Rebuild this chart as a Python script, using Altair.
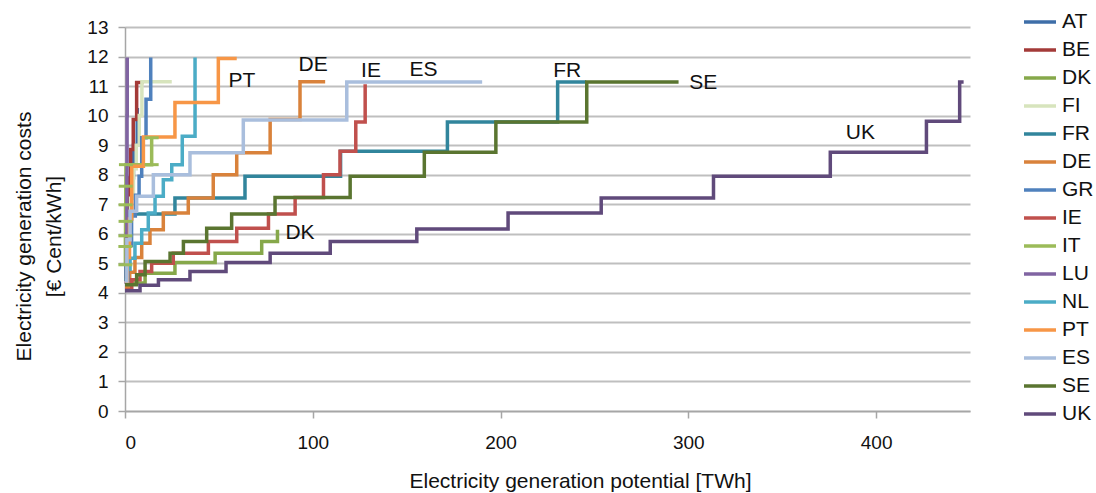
import altair as alt
import pandas as pd

FONT = "Liberation Sans"
TXT = "#111111"

countries = ["AT", "BE", "DK", "FI", "FR", "DE", "GR", "IE", "IT", "LU", "NL", "PT", "ES", "SE", "UK"]
colors = ["#3E6EA8", "#A33A38", "#86A84A", "#D7E4BD", "#31859C", "#D9823B", "#4F81BD",
          "#C0504D", "#9BBB59", "#8064A2", "#4BACC6", "#F79646", "#A9BEDD", "#5A7530", "#604A7B"]

# Step curves: potential (TWh) where each cost level (EUR cent/kWh) starts; last point closes the curve
at_x = [0, 0.8, 1.8, 3.0, 4.5, 6.5, 7.5]
at_y = [4.3, 5.6, 6.8, 7.9, 9.0, 10.2, 10.2]
be_x = [0, 0.8, 1.6, 2.4, 3.0, 4.4, 6.2, 9.8]
be_y = [4.3, 5.5, 6.8, 7.9, 8.85, 9.87, 11.12, 11.12]
dk_x = [0, 3, 10.7, 26.6, 48, 72.8, 81.2]
dk_y = [4.1, 4.33, 4.66, 5.03, 5.34, 5.74, 6.14]
fi_x = [0, 1.5, 3, 4.5, 6, 7.6, 9.0, 24.9]
fi_y = [4.6, 6.0, 7.2, 8.2, 9.0, 10.0, 11.15, 11.15]
fr_x = [0, 0.6, 1.2, 1.8, 26.6, 63.9, 114.8, 171.7, 230.4, 245.6]
fr_y = [4.4, 5.4, 6.1, 6.67, 7.21, 7.95, 8.79, 9.78, 11.14, 11.14]
de_x = [0, 2.5, 5.3, 8.9, 13.3, 20.4, 33.7, 47, 59.5, 77.3, 93.2, 106.6]
de_y = [4.2, 4.7, 5.2, 5.68, 6.14, 6.70, 7.21, 8.0, 8.74, 9.87, 11.15, 11.15]
gr_x = [0, 1.5, 3.5, 5.5, 7.5, 8.9, 11.2, 13.7]
gr_y = [4.4, 5.6, 6.6, 7.3, 7.95, 9.25, 10.55, 11.97]
ie_x = [0, 3.6, 8.0, 14.2, 25.7, 44.4, 59.5, 76.4, 90.6, 105.7, 114.5, 122.9, 127.9]
ie_y = [4.1, 4.44, 4.72, 5.0, 5.34, 5.74, 6.19, 6.67, 7.23, 8.0, 8.79, 9.78, 11.06]
it_x = [0.2, 0.2, 0.2, 0.3, 0.3, 0.4, 0.5, 14.2, 14.2]
it_y = [4.95, 5.57, 5.93, 6.42, 6.98, 7.61, 8.34, 8.34, 9.25]
lu_x = [0.6, 0.8, 1.0, 1.1, 1.2]
lu_y = [4.5, 6.0, 8.0, 10.0, 11.97]
nl_x = [0, 1.0, 2.7, 5.3, 8.9, 12.4, 16, 20.4, 24.9, 30.5, 37.3]
nl_y = [4.4, 4.8, 5.17, 5.68, 6.14, 6.7, 7.27, 7.83, 8.34, 9.3, 11.97]
pt_x = [0, 1.2, 2.4, 3.6, 9.8, 26.6, 49.7, 59.5]
pt_y = [4.3, 5.2, 6.5, 8.29, 9.28, 10.44, 11.93, 11.93]
es_x = [0, 1.0, 2.7, 6.2, 15.1, 34.6, 63, 118.1, 190.2]
es_y = [4.4, 5.8, 6.76, 7.27, 8.0, 8.74, 9.85, 11.14, 11.14]
se_x = [0, 6.2, 10.7, 24, 31.1, 43.5, 56.8, 79.9, 119.9, 159.4, 197.5, 245.9, 294.8]
se_y = [4.27, 4.61, 5.06, 5.34, 5.74, 6.19, 6.67, 7.23, 7.95, 8.76, 9.78, 11.14, 11.14]
uk_x = [0, 8, 17.8, 34.6, 53.8, 77.3, 109.3, 155.4, 204, 253.6, 313.4, 375.6, 426.8, 444.5, 446.6]
uk_y = [4.07, 4.26, 4.44, 4.72, 5.03, 5.34, 5.74, 6.16, 6.70, 7.21, 7.95, 8.76, 9.81, 11.14, 11.14]

ann_labels = ["PT", "DE", "IE", "ES", "FR", "SE", "UK", "DK"]
ann_x = [62.3, 100.2, 131, 159, 235.5, 308, 391.6, 93.2]
ann_y = [11.16, 11.7, 11.5, 11.55, 11.5, 11.09, 9.4, 6.03]

x_ticks = [0, 100, 200, 300, 400]
y_ticks = list(range(0, 14))

series = {
    "AT": (at_x, at_y), "BE": (be_x, be_y), "DK": (dk_x, dk_y), "FI": (fi_x, fi_y),
    "FR": (fr_x, fr_y), "DE": (de_x, de_y), "GR": (gr_x, gr_y), "IE": (ie_x, ie_y),
    "IT": (it_x, it_y), "LU": (lu_x, lu_y), "NL": (nl_x, nl_y), "PT": (pt_x, pt_y),
    "ES": (es_x, es_y), "SE": (se_x, se_y), "UK": (uk_x, uk_y),
}

rows = []
for c in countries:
    xs, ys = series[c]
    for i, (a, b) in enumerate(zip(xs, ys)):
        rows.append({"country": c, "potential": a, "cost": b, "idx": i})
df = pd.DataFrame(rows)
df_it = df[df["country"] == "IT"]
df_ann = pd.DataFrame({"label": ann_labels, "potential": ann_x, "cost": ann_y})

xscale = alt.Scale(domain=[0, 450], nice=False, zero=False)
yscale = alt.Scale(domain=[0, 13], nice=False)

xaxis = alt.Axis(values=x_ticks, grid=False, domainColor="#A6A6A6", domainWidth=1.5,
                 tickColor="#A6A6A6", tickWidth=1.5, tickSize=7, labelFontSize=19,
                 labelFont=FONT, labelColor=TXT, labelPadding=15, labelOverlap=False,
                 title="Electricity generation potential [TWh]", titleFont=FONT,
                 titleFontSize=21, titleFontWeight="normal", titleColor=TXT,
                 titleX=455, titleY=70, titleBaseline="middle")
yaxis = alt.Axis(values=y_ticks, grid=True, gridColor="#BFBFBF", gridWidth=1.8,
                 domainColor="#A6A6A6", domainWidth=1.5, tickColor="#A6A6A6",
                 tickWidth=1.5, tickSize=7, labelFontSize=19, labelFont=FONT,
                 labelColor=TXT, labelPadding=10, labelOverlap=False, labelBound=False,
                 title=["Electricity generation costs", "[€ Cent/kWh]"], titleFont=FONT,
                 titleFontSize=21, titleFontWeight="normal", titleColor=TXT,
                 titleLineHeight=30, titleX=-101, titleY=209, titleBaseline="middle")

X = alt.X("potential:Q", scale=xscale, axis=xaxis)
Y = alt.Y("cost:Q", scale=yscale, axis=yaxis)

lines = alt.Chart(df).mark_line(interpolate="step-after", strokeWidth=3.5).encode(
    x=X, y=Y,
    color=alt.Color("country:N", scale=alt.Scale(domain=countries, range=colors),
                    legend=alt.Legend(title=None, orient="none", legendX=897, legendY=-23,
                                      symbolType="stroke", symbolSize=1024,
                                      symbolStrokeWidth=3.5, labelFontSize=21,
                                      labelFont=FONT, labelColor=TXT, rowPadding=0,
                                      padding=0, labelOffset=4, labelLimit=200)),
    order="idx:Q",
)

it_marks = alt.Chart(df_it).mark_tick(orient="horizontal", size=14, thickness=3,
                                      color="#9BBB59", opacity=1).encode(x=X, y=Y)

labels = alt.Chart(df_ann).mark_text(font=FONT, fontSize=21, color=TXT,
                                     align="center", baseline="middle").encode(
    x=X, y=Y, text="label:N",
)

chart = alt.layer(lines, it_marks, labels).properties(
    width=845, height=384,
    autosize=alt.AutoSizeParams(type="none"),
    padding={"left": 125, "top": 27, "right": 126, "bottom": 82},
    background="white",
).configure_view(stroke=None)

chart.save("out.html", embed_options={"renderer": "svg", "actions": False})
